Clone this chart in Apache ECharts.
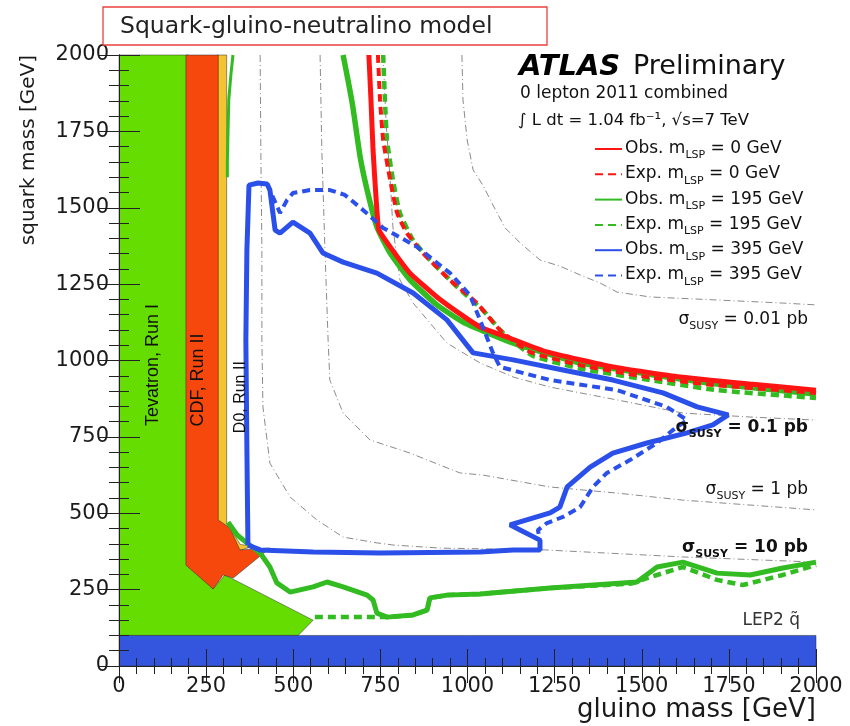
<!DOCTYPE html>
<html><head><meta charset="utf-8">
<script src="https://cdn.jsdelivr.net/npm/echarts@6/dist/echarts.min.js"></script>
<style>html,body{margin:0;padding:0;background:#fff}#c{width:850px;height:726px}</style>
</head><body><div id="c"></div><script>
// ---------------- data (GeV) ----------------
const xTicks = [0,250,500,750,1000,1250,1500,1750,2000];
const yTicks = [0,250,500,750,1000,1250,1500,1750,2000];

const tevatronRun1 = [[0,100],[0,2000],[200,2000],[200,330],[270,252],[304,298],[557,150],[514,100]];
const d0Run2 = [[282,2000],[309,2000],[309,465],[330,430],[348,398],[385,392],[345,378],[282,378]];
const cdfRun2 = [[192,2000],[285,2000],[285,478],[318,452],[347,380],[433,386],[328,288],[299,298],[270,252],[192,330]];
const lep2 = [[0,0],[2000,0],[2000,100],[0,100]];

const sigma10pb = [[405,2000],[407,1689],[410,1362],[410,1067],[413,848],[433,664],[491,553],[568,478],[643,422],[740,403],[786,396],[921,386],[1222,380],[1618,357],[2000,340]];
const sigma1pb = [[577,2000],[582,1689],[591,1362],[600,1067],[605,936],[643,828],[720,740],[835,697],[978,632],[1044,625],[1237,586],[1429,566],[1618,543],[2000,511]];
const sigma01pb = [[758,2000],[766,1787],[778,1591],[786,1437],[798,1329],[806,1264],[844,1188],[941,1057],[1036,992],[1131,946],[1237,913],[1429,871],[1618,828],[1811,815],[2000,805]];
const sigma001pb = [[984,2000],[987,1853],[999,1722],[1016,1624],[1044,1574],[1073,1509],[1108,1434],[1151,1385],[1208,1329],[1265,1309],[1323,1280],[1380,1254],[1429,1224],[1524,1208],[1716,1198],[1905,1188],[2000,1182]];

const obs0 = [[717,2000],[723,1853],[729,1689],[738,1525],[746,1427],[778,1372],[835,1286],[912,1208],[987,1146],[1036,1110],[1113,1077],[1228,1028],[1417,979],[1610,946],[1811,923],[2000,903]];
const exp0 = [[743,2000],[749,1853],[758,1722],[778,1591],[798,1483],[826,1417],[872,1352],[950,1263],[1027,1188],[1093,1100],[1179,1028],[1323,985],[1515,946],[1704,920],[2000,894]];
const obs195 = [[643,2000],[657,1918],[671,1830],[692,1666],[712,1558],[740,1437],[778,1352],[835,1264],[912,1182],[987,1126],[1065,1087],[1131,1057],[1323,992],[1515,956],[1716,923],[2000,890]];
const exp195 = [[758,2000],[763,1853],[769,1722],[786,1591],[806,1483],[844,1394],[892,1329],[970,1241],[1044,1165],[1102,1090],[1188,1015],[1331,972],[1524,936],[1716,903],[2000,877]];
const obs195Edge = [[327,2000],[321,1935],[315,1853],[313,1755],[311,1656],[311,1600]];
const obs195Low = [[313,471],[339,429],[367,403],[405,370],[433,324],[453,272],[491,242],[557,259],[597,275],[643,259],[712,232],[729,216],[740,173],[769,160],[844,167],[884,183],[892,223],[941,232],[1036,236],[1237,255],[1486,275],[1544,324],[1618,340],[1716,304],[1811,298],[1905,321],[2000,340]];
const exp195Low = [[562,160],[735,160],[769,160],[844,167],[884,183],[892,223],[941,232],[1036,236],[1237,255],[1470,270],[1524,291],[1618,324],[1716,282],[1790,265],[1905,298],[2000,331]];
const obs395 = [[370,396],[367,707],[364,1067],[367,1362],[373,1574],[399,1581],[425,1578],[433,1558],[448,1427],[462,1417],[499,1453],[548,1417],[585,1352],[643,1322],[740,1286],[844,1221],[941,1133],[1016,1025],[1131,1002],[1274,969],[1417,936],[1561,894],[1659,848],[1748,822],[1704,789],[1630,763],[1515,730],[1417,697],[1352,651],[1286,586],[1265,520],[1237,501],[1122,462],[1151,445],[1208,412],[1208,380],[1131,380],[1036,373],[749,370],[557,373],[405,380],[370,396]];
const exp395 = [[425,1578],[439,1542],[462,1483],[482,1525],[499,1548],[548,1558],[605,1558],[648,1542],[700,1493],[758,1434],[855,1372],[950,1286],[1007,1214],[1036,1133],[1073,1025],[1093,979],[1237,936],[1429,903],[1572,848],[1630,805],[1590,773],[1544,730],[1466,674],[1400,632],[1360,586],[1323,520],[1274,488],[1228,468],[1202,445],[1208,412]];

const legendNames = ['Obs. mLSP = 0 GeV','Exp. mLSP = 0 GeV','Obs. mLSP = 195 GeV','Exp. mLSP = 195 GeV','Obs. mLSP = 395 GeV','Exp. mLSP = 395 GeV'];
// annotations: [x, y, text]
const sigmaLabels = [[1977,1133,'0.01 pb',false],[1977,779,'0.1 pb',true],[1977,576,'1 pb',false],[1977,386,'10 pb',true]];
const regionLabels = [[97,985,'Tevatron, Run I',18],[227,936,'CDF, Run II',18],[350,880,'D0, Run II',16]];

// ---------------- chart ----------------
const F = 'DejaVu Sans';
const chart = echarts.init(document.getElementById('c'));

function poly(name, pts, color, z) {
  return {type:'custom', name, z, silent:true, animation:false,
    data:[pts[0]],
    renderItem:(params, api) => ({type:'polygon',
      shape:{points: pts.map(p => api.coord(p))},
      style:{fill:color, stroke:'rgba(40,40,40,0.7)', lineWidth:0.7}})};
}
function line(name, data, color, width, dashed, z, smooth) {
  return {type:'line', name, data, z, symbol:'none', smooth: smooth || false, animation:false, silent:true,
    lineStyle:{color, width, type: dashed ? [8,5] : 'solid'}, itemStyle:{color}};
}
function contour(name, data) {
  return {type:'line', name, data, z:5, symbol:'none', animation:false, silent:true,
    lineStyle:{color:'#8a8a8a', width:1, type:[7,3,1,3]}};
}
const RED='#ff1414', GREEN='#33bb22', BLUE='#2b50ea';

const axisCommon = {min:0, max:2000, interval:250, z:30,
  axisLine:{show:true, lineStyle:{color:'#222', width:1}},
  splitLine:{show:false}};
const plain = v => String(v);

const option = {
  animation:false,
  textStyle:{fontFamily:F},
  grid:{left:119, right:34, top:55, bottom:60, containLabel:false},
  xAxis:[
    Object.assign({}, axisCommon, {type:'value', position:'bottom',
      axisTick:{inside:true, length:17, lineStyle:{color:'#222'}},
      minorTick:{show:true, splitNumber:5, length:8, lineStyle:{color:'#222'}},
      axisLabel:{fontSize:21, color:'#1a1a1a', margin:10, fontFamily:F, formatter:plain},
      name:'gluino mass [GeV]', nameLocation:'end', nameGap:0,
      nameTextStyle:{fontSize:26, color:'#1a1a1a', align:'right', verticalAlign:'top', padding:[31,0,0,0], fontFamily:F}}),
    Object.assign({}, axisCommon, {type:'value', position:'top',
      axisTick:{inside:true, length:17, lineStyle:{color:'#222'}},
      minorTick:{show:true, splitNumber:5, length:8, lineStyle:{color:'#222'}},
      axisLabel:{show:false}})
  ],
  yAxis:[
    Object.assign({}, axisCommon, {type:'value', position:'left',
      axisTick:{inside:true, length:21, lineStyle:{color:'#222'}},
      minorTick:{show:true, splitNumber:5, length:10, lineStyle:{color:'#222'}},
      axisLabel:{fontSize:21, color:'#1a1a1a', margin:10, fontFamily:F, formatter:plain},
      name:'squark mass [GeV]', nameLocation:'end', nameGap:0, nameRotate:90,
      nameTextStyle:{fontSize:20, color:'#1a1a1a', align:'right', verticalAlign:'bottom', padding:[0,0,80,0], fontFamily:F}}),
    Object.assign({}, axisCommon, {type:'value', position:'right',
      axisTick:{inside:true, length:21, lineStyle:{color:'#222'}},
      minorTick:{show:true, splitNumber:5, length:10, lineStyle:{color:'#222'}},
      axisLabel:{show:false}})
  ],
  legend:{data:legendNames, orient:'vertical', left:589, top:135, itemWidth:27, itemHeight:6, itemGap:4.3,
    selectedMode:false, z:40, itemStyle:{opacity:0},
    formatter: n => { const p = n.split('LSP'); return '{a|' + p[0] + '}{s|LSP}{a|' + p[1] + '}'; },
    textStyle:{color:'#111', fontFamily:F, padding:[0,0,0,-2],
      rich:{a:{fontSize:17, lineHeight:18, verticalAlign:'top', fontFamily:F, color:'#111'},
            s:{fontSize:11, lineHeight:10, padding:[10,0,0,0], verticalAlign:'top', fontFamily:F, color:'#111'}}}},
  series:[
    poly('Tevatron, Run I', tevatronRun1, '#66dd00', 1),
    poly('D0, Run II', d0Run2, '#f2c530', 2),
    poly('CDF, Run II', cdfRun2, '#f6480c', 3),
    poly('LEP2', lep2, '#3456df', 4),
    contour('sigma 10 pb', sigma10pb),
    contour('sigma 1 pb', sigma1pb),
    contour('sigma 0.1 pb', sigma01pb),
    contour('sigma 0.01 pb', sigma001pb),
    line(legendNames[2], obs195, GREEN, 5.5, false, 6, 0.15),
    line(legendNames[2], obs195Edge, GREEN, 3, false, 6),
    line(legendNames[2], obs195Low, GREEN, 5, false, 6),
    line(legendNames[3], exp195, GREEN, 4.5, true, 7, 0.15),
    line(legendNames[3], exp195Low, GREEN, 4.5, true, 6),
    line(legendNames[0], obs0, RED, 5, false, 8, 0.15),
    line(legendNames[1], exp0, RED, 4, true, 8, 0.15),
    line(legendNames[4], obs395, BLUE, 5, false, 10),
    line(legendNames[5], exp395, BLUE, 4, true, 10)
  ]
};
chart.setOption(option);

// annotations placed through the chart's coordinate system
const g = [];
g.push({type:'rect', shape:{x:103, y:7, width:444, height:38}, style:{fill:'#fff', stroke:'#e8413c', lineWidth:1.3}, z:50});
g.push({type:'text', x:120, y:27, z:51, style:{text:'Squark-gluino-neutralino model', font:'23.5px "DejaVu Sans"', fill:'#222', verticalAlign:'middle'}});
g.push({type:'text', x:519, y:67, z:51, style:{text:'ATLAS', font:'italic bold 29px "DejaVu Sans"', fill:'#000', verticalAlign:'middle'}});
g.push({type:'text', x:633, y:67, z:51, style:{text:'Preliminary', font:'27px "DejaVu Sans"', fill:'#111', verticalAlign:'middle'}});
g.push({type:'text', x:520, y:94, z:51, style:{text:'0 lepton 2011 combined', font:'17px "DejaVu Sans"', fill:'#111', verticalAlign:'middle'}});
g.push({type:'text', x:518, y:121, z:51, style:{text:'∫ L dt = 1.04 fb⁻¹, √s=7 TeV', font:'16.5px "DejaVu Sans"', fill:'#111', verticalAlign:'middle'}});
sigmaLabels.forEach(([x,y,t,bold]) => {
  const p = chart.convertToPixel({gridIndex:0}, [x,y]);
  const w = bold ? 'bold ' : '';
  g.push({type:'text', x:p[0], y:p[1], z:45, style:{text:'{a|σ}{s|SUSY}{a| = ' + t + '}', align:'right', verticalAlign:'middle',
    rich:{a:{font:w+'17px "DejaVu Sans"', fill:'#111', lineHeight:18, verticalAlign:'top'},
          s:{font:w+'11px "DejaVu Sans"', fill:'#111', lineHeight:10, padding:[10,0,0,0], verticalAlign:'top'}}}});
});
const lp = chart.convertToPixel({gridIndex:0}, [1954,150]);
g.push({type:'text', x:lp[0], y:lp[1], z:45, style:{text:'LEP2 q\u0303', font:'17px "DejaVu Sans"', fill:'#333', align:'right', verticalAlign:'middle'}});
regionLabels.forEach(([x,y,t,fs]) => {
  const p = chart.convertToPixel({gridIndex:0}, [x,y]);
  g.push({type:'text', x:p[0], y:p[1], rotation:Math.PI/2, z:45, style:{text:t, font:fs+'px "Liberation Sans"', fill:'#111', align:'center', verticalAlign:'middle'}});
});
chart.setOption({graphic:g});
</script></body></html>
